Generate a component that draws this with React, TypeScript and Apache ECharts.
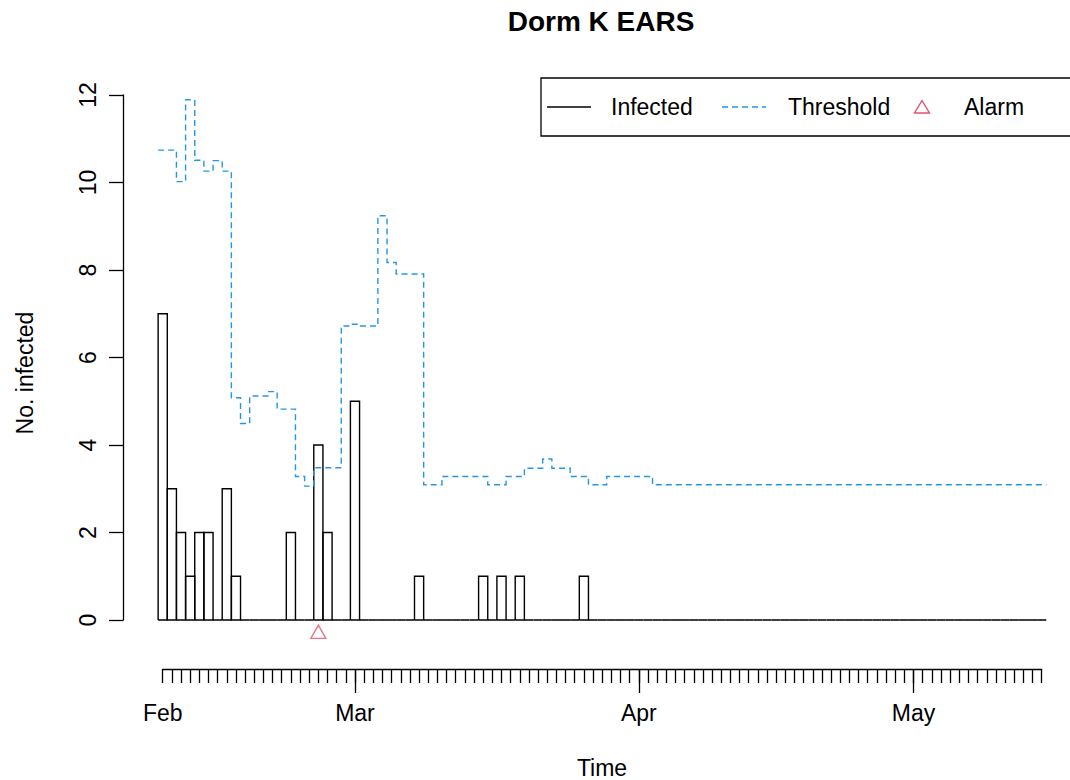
import React, { useEffect, useRef } from 'react';
import * as echarts from 'echarts';

// Day index 0 = first observation (Feb 8); one value per day
const MONTH_TICKS = [0, 21, 52, 82];
const MONTH_LABELS = ['Feb', 'Mar', 'Apr', 'May'];

const infected = [
  7, 3, 2, 1, 2, 2, 0, 3, 1, 0,
  0, 0, 0, 0, 2, 0, 0, 4, 2, 0,
  0, 5, 0, 0, 0, 0, 0, 0, 1, 0,
  0, 0, 0, 0, 0, 1, 0, 1, 0, 1,
  0, 0, 0, 0, 0, 0, 1, 0, 0, 0,
  0, 0, 0, 0, 0, 0, 0, 0, 0, 0,
  0, 0, 0, 0, 0, 0, 0, 0, 0, 0,
  0, 0, 0, 0, 0, 0, 0, 0, 0, 0,
  0, 0, 0, 0, 0, 0, 0, 0, 0, 0,
  0, 0, 0, 0, 0, 0, 0,
];

const threshold = [
  10.74, 10.74, 10.02, 11.89, 10.51, 10.26, 10.5, 10.26, 5.08, 4.49,
  5.12, 5.12, 5.22, 4.82, 4.82, 3.28, 3.06, 3.48, 3.48, 3.48,
  6.72, 6.76, 6.72, 6.72, 9.24, 8.17, 7.91, 7.91, 7.91, 3.09,
  3.09, 3.28, 3.28, 3.28, 3.28, 3.28, 3.09, 3.09, 3.28, 3.28,
  3.47, 3.47, 3.68, 3.47, 3.47, 3.28, 3.28, 3.09, 3.09, 3.28,
  3.28, 3.28, 3.28, 3.28, 3.09, 3.09, 3.09, 3.09, 3.09, 3.09,
  3.09, 3.09, 3.09, 3.09, 3.09, 3.09, 3.09, 3.09, 3.09, 3.09,
  3.09, 3.09, 3.09, 3.09, 3.09, 3.09, 3.09, 3.09, 3.09, 3.09,
  3.09, 3.09, 3.09, 3.09, 3.09, 3.09, 3.09, 3.09, 3.09, 3.09,
  3.09, 3.09, 3.09, 3.09, 3.09, 3.09, 3.09,
];

const alarmDays = [17];
const ALARM_LEVEL = -0.27;

const FONT = '"Liberation Sans", Arial, Helvetica, sans-serif';
const BLUE = '#2297E6';
const RED = '#DF536B';

export default function App() {
  const ref = useRef<HTMLDivElement>(null);

  useEffect(() => {
    const chart = echarts.init(ref.current as HTMLDivElement, null, { renderer: 'svg' });
    const lastDay = infected.length - 1;

    chart.setOption({
      animation: false,
      backgroundColor: '#ffffff',
      textStyle: { fontFamily: FONT },
      grid: { left: 162.7, top: 95, width: 879, height: 525, containLabel: false },
      xAxis: [
        {
          type: 'value',
          min: 0,
          max: lastDay,
          interval: 1,
          position: 'bottom',
          offset: 49,
          axisLine: { show: true, onZero: false, lineStyle: { color: '#000', width: 1.3 } },
          axisTick: { show: true, length: 14, lineStyle: { color: '#000', width: 1.3 } },
          axisLabel: {
            show: true,
            customValues: MONTH_TICKS,
            formatter: (v: number) => {
              const k = MONTH_TICKS.indexOf(v);
              return k >= 0 ? MONTH_LABELS[k] : '';
            },
            margin: 32,
            fontSize: 23,
            color: '#000',
            fontFamily: FONT,
          },
          splitLine: { show: false },
        },
        {
          type: 'value',
          min: 0,
          max: lastDay,
          position: 'bottom',
          offset: 49,
          axisLine: { show: false, onZero: false },
          axisTick: {
            show: true,
            customValues: MONTH_TICKS.slice(1),
            length: 24,
            lineStyle: { color: '#000', width: 1.3 },
          },
          axisLabel: { show: false },
          splitLine: { show: false },
        },
      ],
      yAxis: {
        type: 'value',
        min: 0,
        max: 12,
        interval: 2,
        offset: 39.7,
        axisLine: { show: true, onZero: false, lineStyle: { color: '#000', width: 1.3 } },
        axisTick: { show: true, length: 14, lineStyle: { color: '#000', width: 1.3 } },
        axisLabel: { rotate: 90, margin: 24, fontSize: 23, color: '#000', fontFamily: FONT },
        splitLine: { show: false },
      },
      series: [
        {
          type: 'custom',
          name: 'Infected',
          coordinateSystem: 'cartesian2d',
          xAxisIndex: 0,
          yAxisIndex: 0,
          clip: false,
          data: infected.map((v, i) => [i, v]),
          renderItem: (_params: any, api: any) => {
            const x = api.value(0);
            const v = api.value(1);
            const p0 = api.coord([x - 0.5, 0]);
            const p1 = api.coord([x + 0.5, v]);
            return {
              type: 'polyline',
              shape: {
                points: [
                  [p0[0], p0[1]],
                  [p0[0], p1[1]],
                  [p1[0], p1[1]],
                  [p1[0], p0[1]],
                  [p0[0], p0[1]],
                ],
              },
              style: { fill: 'none', stroke: '#000', lineWidth: 1.4 },
            };
          },
        },
        {
          type: 'custom',
          name: 'Threshold',
          coordinateSystem: 'cartesian2d',
          xAxisIndex: 0,
          yAxisIndex: 0,
          clip: false,
          data: threshold.map((v, i) => [i, v]),
          renderItem: (params: any, api: any) => {
            if (params.dataIndex !== 0) return null;
            const pts: number[][] = [];
            threshold.forEach((t, i) => {
              pts.push(api.coord([i - 0.5, t]));
              pts.push(api.coord([i + 0.5, t]));
            });
            return {
              type: 'polyline',
              shape: { points: pts },
              style: { fill: 'none', stroke: BLUE, lineWidth: 1.4, lineDash: [6, 4] },
            };
          },
        },
        {
          type: 'scatter',
          name: 'Alarm',
          xAxisIndex: 0,
          yAxisIndex: 0,
          clip: false,
          symbol: 'triangle',
          symbolSize: [15, 13],
          data: alarmDays.map((d) => [d, ALARM_LEVEL]),
          itemStyle: { color: 'rgba(0,0,0,0)', borderColor: RED, borderWidth: 1.4 },
        },
      ],
      graphic: [
        {
          type: 'text',
          x: 601,
          y: 21,
          style: {
            text: 'Dorm K EARS',
            fontFamily: FONT,
            fontSize: 28,
            fontWeight: 'bold',
            fill: '#000',
            align: 'center',
            verticalAlign: 'middle',
            textAlign: 'center',
            textVerticalAlign: 'middle',
          },
        },
        {
          type: 'text',
          x: 602,
          y: 768,
          style: {
            text: 'Time',
            fontFamily: FONT,
            fontSize: 23,
            fill: '#000',
            align: 'center',
            verticalAlign: 'middle',
            textAlign: 'center',
            textVerticalAlign: 'middle',
          },
        },
        {
          type: 'text',
          x: 25,
          y: 373,
          rotation: Math.PI / 2,
          style: {
            text: 'No. infected',
            fontFamily: FONT,
            fontSize: 23,
            fill: '#000',
            align: 'center',
            verticalAlign: 'middle',
            textAlign: 'center',
            textVerticalAlign: 'middle',
          },
        },
        {
          type: 'group',
          children: [
            {
              type: 'rect',
              shape: { x: 541, y: 78, width: 545, height: 58 },
              style: { fill: '#fff', stroke: '#000', lineWidth: 1.3 },
            },
            {
              type: 'line',
              shape: { x1: 547, y1: 107, x2: 591, y2: 107 },
              style: { stroke: '#000', lineWidth: 1.4 },
            },
            {
              type: 'text',
              x: 611,
              y: 107,
              style: {
                text: 'Infected',
                fontFamily: FONT,
                fontSize: 23,
                fill: '#000',
                align: 'left',
                verticalAlign: 'middle',
                textAlign: 'left',
                textVerticalAlign: 'middle',
              },
            },
            {
              type: 'line',
              shape: { x1: 722, y1: 107, x2: 766, y2: 107 },
              style: { stroke: BLUE, lineWidth: 1.4, lineDash: [6, 4] },
            },
            {
              type: 'text',
              x: 788,
              y: 107,
              style: {
                text: 'Threshold',
                fontFamily: FONT,
                fontSize: 23,
                fill: '#000',
                align: 'left',
                verticalAlign: 'middle',
                textAlign: 'left',
                textVerticalAlign: 'middle',
              },
            },
            {
              type: 'polygon',
              shape: { points: [[922, 100.5], [929.5, 113], [914.5, 113]] },
              style: { fill: 'none', stroke: RED, lineWidth: 1.4 },
            },
            {
              type: 'text',
              x: 964,
              y: 107,
              style: {
                text: 'Alarm',
                fontFamily: FONT,
                fontSize: 23,
                fill: '#000',
                align: 'left',
                verticalAlign: 'middle',
                textAlign: 'left',
                textVerticalAlign: 'middle',
              },
            },
          ],
        },
      ],
    });

    return () => {
      chart.dispose();
    };
  }, []);

  return (
    <div
      ref={ref}
      style={{ position: 'fixed', left: 0, top: 0, width: 1070, height: 780, background: '#fff' }}
    />
  );
}
